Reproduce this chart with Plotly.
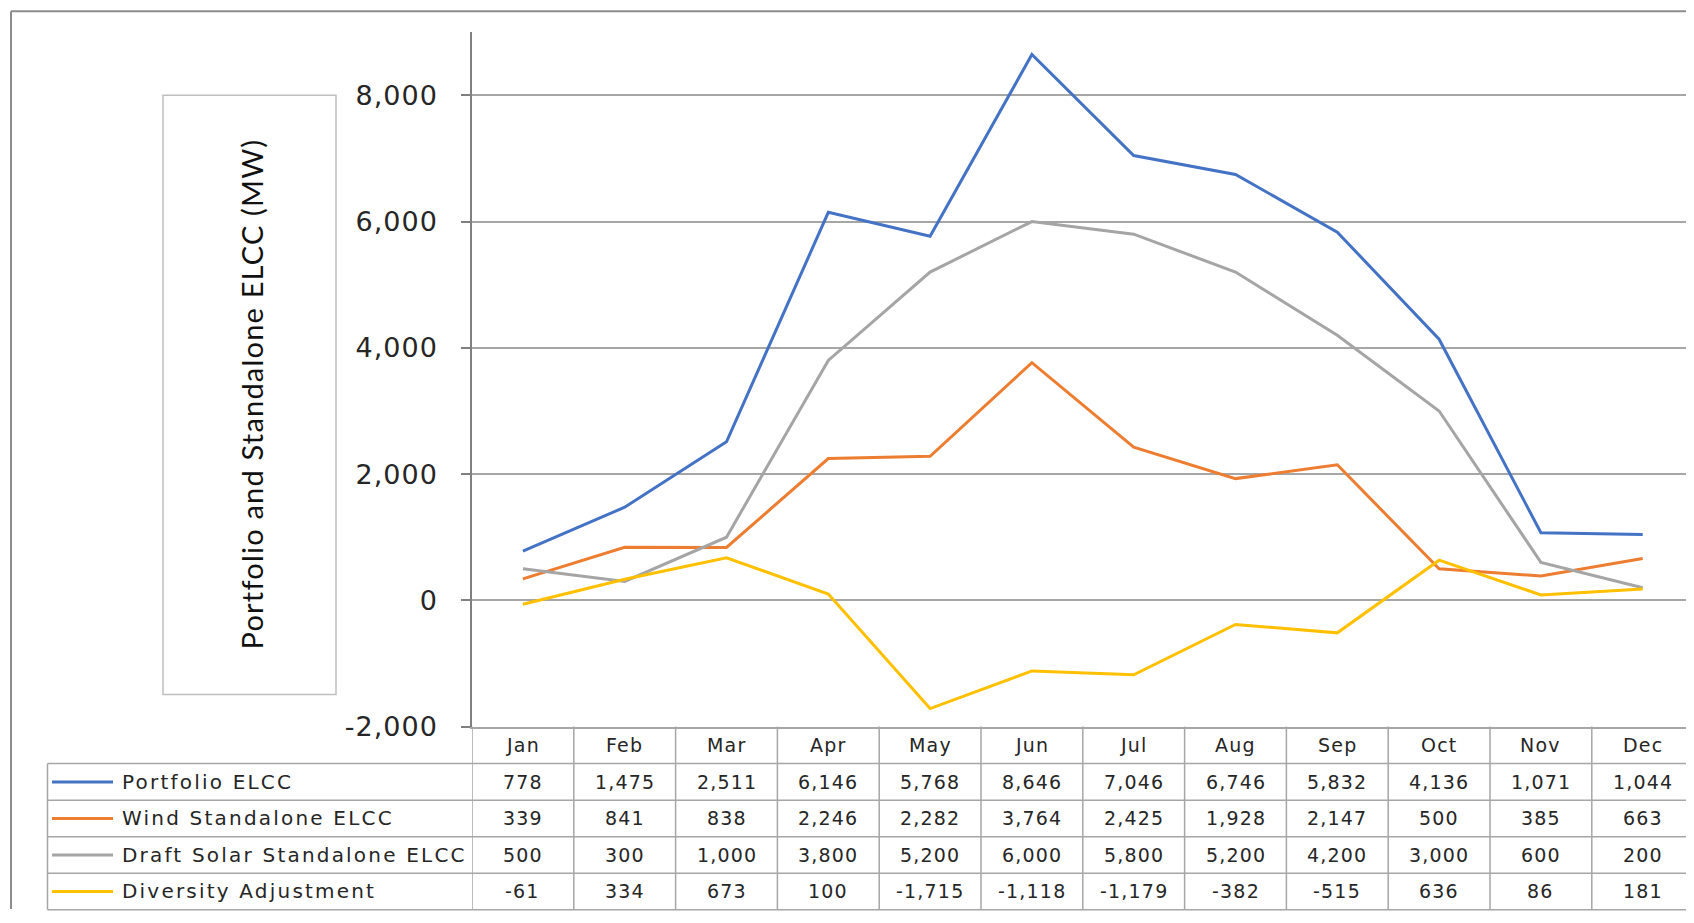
import plotly.graph_objects as go

# ---------------- data ----------------
months = ["Jan", "Feb", "Mar", "Apr", "May", "Jun", "Jul", "Aug", "Sep", "Oct", "Nov", "Dec"]
series_names = ["Portfolio ELCC", "Wind Standalone ELCC", "Draft Solar Standalone ELCC", "Diversity Adjustment"]
portfolio = [778, 1475, 2511, 6146, 5768, 8646, 7046, 6746, 5832, 4136, 1071, 1044]
wind = [339, 841, 838, 2246, 2282, 3764, 2425, 1928, 2147, 500, 385, 663]
solar = [500, 300, 1000, 3800, 5200, 6000, 5800, 5200, 4200, 3000, 600, 200]
diversity = [-61, 334, 673, 100, -1715, -1118, -1179, -382, -515, 636, 86, 181]
y_ticks = [-2000, 0, 2000, 4000, 6000, 8000]
y_title = "Portfolio and Standalone ELCC (MW)"

series = [portfolio, wind, solar, diversity]
colors = ["#4472C4", "#ED7D31", "#A5A5A5", "#FFC000"]

# ---------------- geometry ----------------
W, H = 1678, 916
OFF = 8
VS = 0.983  # observed vertical scale of the capture
def sx(x):
    return (x - OFF) / W
def sy(y):
    return 1 - (y / VS - OFF) / H

PLOT_L, PLOT_T, PLOT_B = 472, 32, 726
COLW = 101.8
x_right = -0.5 + (W + OFF - PLOT_L) / COLW

GRID = "#A6A6A6"
TXT = "#262626"
FONT = "DejaVu Sans"

def spaced(t, px):
    return f'<span style="letter-spacing:{px}px">{t}</span>'

fig = go.Figure()
for name, vals, c in zip(series_names, series, colors):
    fig.add_trace(go.Scatter(x=months, y=vals, mode="lines", name=name,
                             line=dict(color=c, width=3), showlegend=False))

shapes = []
annotations = []

# chart outer border
shapes.append(dict(type="line", xref="paper", yref="paper", x0=sx(11), x1=1.0, y0=sy(11), y1=sy(11),
                   line=dict(color="#8C8C8C", width=2)))
shapes.append(dict(type="line", xref="paper", yref="paper", x0=sx(11), x1=sx(11), y0=sy(11), y1=0,
                   line=dict(color="#8C8C8C", width=2)))

# y-axis title box + text
shapes.append(dict(type="rect", xref="paper", yref="paper", x0=sx(163), x1=sx(336), y0=sy(694), y1=sy(95),
                   line=dict(color="#BFBFBF", width=1.5)))
annotations.append(dict(text=spaced(y_title, 1.2), xref="paper", yref="paper", x=sx(251), y=sy(394),
                        textangle=-90, showarrow=False, xanchor="center", yanchor="middle",
                        font=dict(family="Lato", size=29, color="#111111")))

# data table
row_bounds = [726, 763, 799.5, 836, 872.5, 909]
TABLE_L = 47.5
for yb in row_bounds[1:]:
    shapes.append(dict(type="line", xref="paper", yref="paper", x0=sx(TABLE_L), x1=1.0,
                       y0=sy(yb), y1=sy(yb), line=dict(color=GRID, width=1.5)))
for k in range(len(months) + 1):
    shapes.append(dict(type="line", xref="x", yref="paper", x0=k - 0.5, x1=k - 0.5,
                       y0=sy(row_bounds[0]), y1=sy(row_bounds[-1]), line=dict(color=GRID, width=1.5)))
shapes.append(dict(type="line", xref="paper", yref="paper", x0=sx(TABLE_L), x1=sx(TABLE_L),
                   y0=sy(row_bounds[1]), y1=sy(row_bounds[-1]), line=dict(color=GRID, width=1.5)))

hdr_y = (row_bounds[0] + row_bounds[1]) / 2
for m in months:
    annotations.append(dict(text=spaced(m, 1.2), xref="x", yref="paper", x=m, y=sy(hdr_y), showarrow=False,
                            xanchor="center", yanchor="middle", font=dict(family=FONT, size=19, color=TXT)))

for r, (name, vals, c) in enumerate(zip(series_names, series, colors)):
    yc = (row_bounds[r + 1] + row_bounds[r + 2]) / 2
    shapes.append(dict(type="line", xref="paper", yref="paper", x0=sx(52), x1=sx(113),
                       y0=sy(yc), y1=sy(yc), line=dict(color=c, width=3)))
    annotations.append(dict(text=spaced(name, 2.2), xref="paper", yref="paper", x=sx(120), y=sy(yc),
                            showarrow=False, xanchor="left", yanchor="middle",
                            font=dict(family=FONT, size=20, color=TXT)))
    for m, v in zip(months, vals):
        annotations.append(dict(text=spaced(f"{v:,}", 1.2), xref="x", yref="paper", x=m, y=sy(yc),
                                showarrow=False, xanchor="center", yanchor="middle",
                                font=dict(family=FONT, size=19, color=TXT)))

fig.update_layout(
    width=W, height=H,
    margin=dict(l=0, r=0, t=0, b=0),
    paper_bgcolor="white", plot_bgcolor="white",
    shapes=shapes, annotations=annotations,
    xaxis=dict(domain=[sx(PLOT_L), 1.0], range=[-0.5, x_right], type="category",
               showgrid=False, showticklabels=False, ticks="",
               showline=True, linecolor=GRID, linewidth=1.5, zeroline=False),
    yaxis=dict(domain=[sy(PLOT_B), sy(PLOT_T)], range=[-2000, 9000],
               tickvals=y_ticks, ticktext=[spaced(f"{v:,}", 1) for v in y_ticks],
               showgrid=True, gridcolor=GRID, gridwidth=1.5, zeroline=False,
               showline=True, linecolor="#808080", linewidth=1.5,
               ticks="outside", ticklen=9, tickcolor="#808080", tickwidth=1.5,
               ticklabelstandoff=18,
               tickfont=dict(family=FONT, size=27, color=TXT)),
)

fig.write_html("out.html")
